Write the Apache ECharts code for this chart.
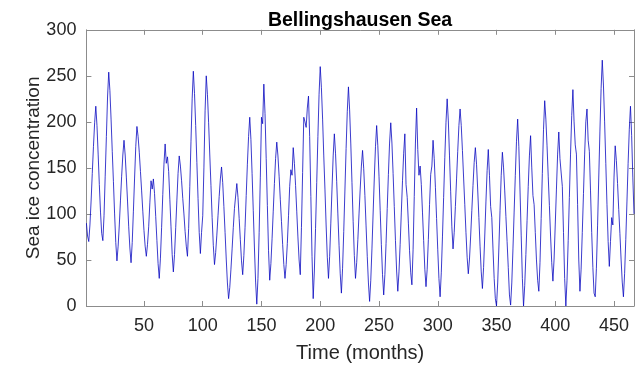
<!DOCTYPE html>
<html>
<head>
<meta charset="utf-8">
<script src="https://cdn.jsdelivr.net/npm/echarts@6/dist/echarts.min.js"></script>
<style>
  html, body { margin: 0; padding: 0; background: #ffffff; }
  #chart { width: 636px; height: 368px; }
</style>
</head>
<body>
<div id="chart"></div>
<script>
// Monthly sea ice concentration, Bellingshausen Sea (months 1-467)
const iceMonths1to120 = [
  90, 76, 70, 88, 114, 144, 173, 199, 217, 196, 165, 132,
  102, 79, 71, 98, 141, 184, 227, 254, 234, 203, 168, 135,
  100, 69, 49, 65, 88, 115, 141, 164, 180, 164, 140, 114,
  86, 63, 47, 69, 103, 139, 173, 195, 184, 167, 146, 125,
  103, 82, 65, 54, 67, 86, 112, 136, 127, 138, 122, 97,
  71, 46, 30, 52, 85, 121, 154, 176, 155, 162, 146, 116,
  86, 56, 37, 56, 85, 115, 144, 163, 152, 136, 117, 100,
  81, 65, 54, 84, 130, 179, 225, 255, 231, 196, 156, 117,
  80, 57, 80, 98, 150, 212, 250, 230, 199, 164, 131, 96,
  66, 45, 58, 77, 98, 119, 138, 151, 134, 108, 80, 51
];
const iceMonths121to240 = [
  25, 8, 20, 40, 62, 85, 106, 107, 133, 118, 95, 72,
  49, 34, 55, 85, 120, 154, 184, 205, 181, 144, 104, 63,
  26, 2, 30, 80, 140, 205, 198, 241, 209, 160, 109, 60,
  28, 46, 73, 103, 133, 160, 178, 163, 141, 116, 92, 67,
  45, 30, 45, 68, 98, 130, 148, 142, 172, 155, 131, 103,
  75, 50, 34, 85, 145, 205, 200, 194, 215, 228, 184, 119,
  54, 8, 38, 84, 134, 184, 230, 260, 237, 203, 163, 127,
  88, 53, 30, 54, 90, 127, 163, 187, 166, 135, 100, 66,
  35, 14, 41, 81, 126, 171, 211, 238, 213, 176, 134, 92,
  55, 30, 47, 72, 100, 127, 152, 169, 149, 120, 87, 54
];
const iceMonths241to360 = [
  25, 5, 28, 62, 101, 139, 173, 196, 174, 141, 104, 67,
  34, 12, 34, 68, 106, 143, 177, 199, 177, 144, 108, 71,
  38, 16, 37, 67, 102, 136, 166, 187, 132, 118, 90, 60,
  36, 23, 61, 119, 177, 215, 170, 142, 152, 132, 102, 71,
  40, 21, 40, 72, 110, 143, 152, 180, 160, 129, 95, 61,
  30, 10, 36, 75, 118, 161, 199, 225, 201, 163, 124, 86,
  62, 80, 108, 138, 168, 196, 214, 196, 169, 139, 110, 80,
  53, 35, 51, 76, 104, 131, 156, 172, 154, 126, 96, 65,
  37, 19, 42, 76, 113, 147, 170, 142, 108, 96, 62, 30,
  8, 0, 25, 63, 104, 142, 167, 150, 125, 97, 70, 42
];
const iceMonths361to467 = [
  12, 1, 25, 62, 102, 142, 179, 203, 173, 126, 77, 30,
  0, 22, 56, 93, 130, 163, 185, 150, 120, 110, 80, 50,
  28, 16, 47, 95, 144, 192, 223, 203, 174, 141, 109, 76,
  47, 27, 51, 89, 127, 165, 189, 160, 158, 130, 80, 30,
  0, 28, 71, 118, 165, 207, 235, 200, 175, 165, 110, 50,
  16, 40, 80, 122, 165, 200, 214, 180, 168, 125, 80, 42,
  14, 10, 41, 87, 139, 190, 236, 267, 240, 200, 155, 110,
  70, 43, 70, 96, 88, 140, 174, 158, 133, 105, 79, 51,
  26, 10, 35, 72, 113, 155, 192, 217, 185, 140, 100
];

const xTicks = [50, 100, 150, 200, 250, 300, 350, 400, 450];
const yTicks = [0, 50, 100, 150, 200, 250, 300];

const titleText = 'Bellingshausen Sea';
const xLabel = 'Time (months)';
const yLabel = 'Sea ice concentration';

const iceValues = [].concat(iceMonths1to120, iceMonths121to240, iceMonths241to360, iceMonths361to467);
const seriesData = iceValues.map((v, i) => [i + 1, v]);

const FONT = 'Liberation Sans, Arial, Helvetica, sans-serif';
const AXIS_COLOR = '#262626';
const LINE_COLOR = '#8c8c8c';

const tickStyle = { show: true, inside: true, length: 5, lineStyle: { color: LINE_COLOR, width: 1 } };

const chart = echarts.init(document.getElementById('chart'), null, { renderer: 'canvas' });
chart.setOption({
  animation: false,
  backgroundColor: '#ffffff',
  title: {
    text: titleText,
    left: 355,
    top: 6,
    textAlign: 'center',
    textStyle: { fontFamily: FONT, fontSize: 19.5, fontWeight: 'bold', color: '#000000' }
  },
  grid: { left: 86.4, right: 2, top: 29.8, bottom: 60.4, containLabel: false },
  xAxis: [
    {
      type: 'value', min: 1, max: 467, position: 'bottom',
      name: xLabel, nameLocation: 'middle', nameGap: 37,
      nameTextStyle: { fontFamily: FONT, fontSize: 20, color: AXIS_COLOR },
      axisLine: { show: true, onZero: false, lineStyle: { color: LINE_COLOR, width: 1 } },
      axisTick: Object.assign({ customValues: xTicks }, tickStyle),
      axisLabel: { customValues: xTicks, fontFamily: FONT, fontSize: 18, color: AXIS_COLOR, margin: 11 },
      splitLine: { show: false }
    },
    {
      type: 'value', min: 1, max: 467, position: 'top',
      axisLine: { show: true, onZero: false, lineStyle: { color: LINE_COLOR, width: 1 } },
      axisTick: Object.assign({ customValues: xTicks }, tickStyle),
      axisLabel: { show: false },
      splitLine: { show: false }
    }
  ],
  yAxis: [
    {
      type: 'value', min: 0, max: 300, interval: 50, position: 'left',
      name: yLabel, nameLocation: 'middle', nameGap: 43, nameRotate: 90,
      nameMoveOverlap: false,
      nameTextStyle: { fontFamily: FONT, fontSize: 19, color: AXIS_COLOR },
      axisLine: { show: true, onZero: false, lineStyle: { color: LINE_COLOR, width: 1 } },
      axisTick: tickStyle,
      axisLabel: { fontFamily: FONT, fontSize: 18, color: AXIS_COLOR, margin: 10 },
      splitLine: { show: false }
    },
    {
      type: 'value', min: 0, max: 300, interval: 50, position: 'right',
      axisLine: { show: true, onZero: false, lineStyle: { color: LINE_COLOR, width: 1 } },
      axisTick: tickStyle,
      axisLabel: { show: false },
      splitLine: { show: false }
    }
  ],
  series: [
    {
      type: 'line',
      xAxisIndex: 0,
      yAxisIndex: 0,
      data: seriesData,
      showSymbol: false,
      symbol: 'none',
      lineStyle: { color: '#0a0ac0', width: 0.8 },
      silent: true
    }
  ]
});
</script>
</body>
</html>
